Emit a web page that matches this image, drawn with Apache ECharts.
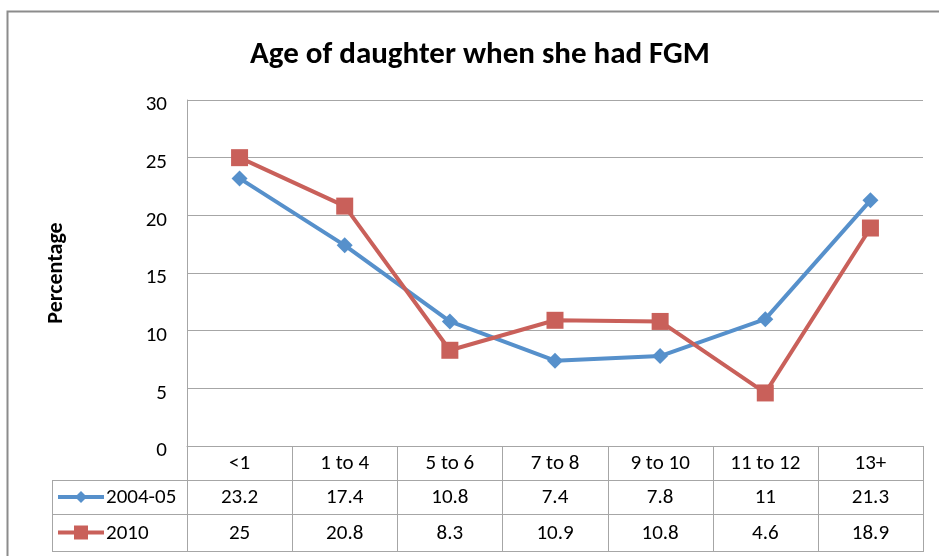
<!DOCTYPE html>
<html>
<head>
<meta charset="utf-8">
<script src="https://cdn.jsdelivr.net/npm/echarts@6/dist/echarts.min.js"></script>
<style>
html,body{margin:0;padding:0;background:#fff;}
#chart{width:939px;height:556px;}
</style>
</head>
<body>
<div id="chart"></div>
<script>
var categories = ['<1', '1 to 4', '5 to 6', '7 to 8', '9 to 10', '11 to 12', '13+'];
var seriesNames = ['2004-05', '2010'];
var values2004 = [23.2, 17.4, 10.8, 7.4, 7.8, 11, 21.3];
var values2010 = [25, 20.8, 8.3, 10.9, 10.8, 4.6, 18.9];
var yTicks = [0, 5, 10, 15, 20, 25, 30];

var FONT = 'Carlito, Lato, sans-serif';
var BLUE = '#5690cb';
var RED = '#c9605a';
var GRIDC = '#a6a6a6';
var FS = 21;

var chart = echarts.init(document.getElementById('chart'), null, {renderer: 'canvas'});

var option = {
  animation: false,
  backgroundColor: '#fff',
  textStyle: {fontFamily: FONT},
  title: {
    text: 'Age of daughter when she had FGM',
    left: 475,
    textAlign: 'center',
    top: 35,
    textStyle: {fontFamily: FONT, fontSize: 31, fontWeight: 'bold', color: '#000'}
  },
  grid: {left: 187, right: 16, top: 100, bottom: 110, containLabel: false},
  xAxis: {
    type: 'category',
    data: categories,
    boundaryGap: true,
    axisLine: {show: true, lineStyle: {color: GRIDC, width: 1}},
    axisTick: {show: false},
    splitLine: {show: false},
    axisLabel: {margin: 7, fontSize: FS, color: '#000', fontFamily: FONT, interval: 0}
  },
  yAxis: {
    type: 'value',
    min: yTicks[0],
    max: yTicks[yTicks.length - 1],
    interval: 5,
    name: 'Percentage',
    nameLocation: 'middle',
    nameRotate: 90,
    nameGap: 120,
    nameTextStyle: {fontFamily: FONT, fontSize: 22, fontWeight: 'bold', color: '#000'},
    axisLine: {show: true, lineStyle: {color: GRIDC, width: 1}},
    axisTick: {show: false},
    splitLine: {show: true, lineStyle: {color: GRIDC, width: 1}},
    axisLabel: {margin: 20, fontSize: FS, color: '#000', fontFamily: FONT, verticalAlign: 'top', lineHeight: 10}
  },
  series: [
    {
      name: seriesNames[0], type: 'line', data: values2004,
      symbol: 'diamond', symbolSize: 16,
      lineStyle: {color: BLUE, width: 4},
      itemStyle: {color: BLUE}
    },
    {
      name: seriesNames[1], type: 'line', data: values2010,
      symbol: 'rect', symbolSize: 17,
      lineStyle: {color: RED, width: 4},
      itemStyle: {color: RED}
    }
  ]
};
chart.setOption(option);

// Build data table below the plot from the axis scale
var x0 = chart.convertToPixel({xAxisIndex: 0}, categories[0]);
var x1 = chart.convertToPixel({xAxisIndex: 0}, categories[1]);
var band = x1 - x0;
var yAxisZero = chart.convertToPixel({yAxisIndex: 0}, 0);
var rowTop = [yAxisZero, yAxisZero + 34, yAxisZero + 68, yAxisZero + 105];
var tableLeft = 52;
var plotLeft = x0 - band / 2;
var plotRight = x0 + band * (categories.length - 0.5);

var g = [];
function line(xa, ya, xb, yb) {
  g.push({type: 'line', silent: true, shape: {x1: xa, y1: ya, x2: xb, y2: yb},
    style: {stroke: GRIDC, lineWidth: 1}});
}
// outer chart border
g.push({type: 'polyline', silent: true, shape: {points: [[7.5, 600], [7.5, 11.5], [960, 11.5]]},
  style: {stroke: '#8c8c8c', lineWidth: 2, fill: null}});
// vertical boundaries
for (var i = 0; i <= categories.length; i++) {
  var bx = Math.round(plotLeft + i * band) + 0.5;
  line(bx, rowTop[0], bx, rowTop[3]);
}
line(tableLeft + 0.5, rowTop[1], tableLeft + 0.5, rowTop[3]);
// horizontal lines
for (var r = 1; r <= 3; r++) {
  var hy = Math.round(rowTop[r]) + 0.5;
  line(tableLeft, hy, Math.round(plotRight) + 1, hy);
}
// values
var allVals = [values2004, values2010];
for (var s = 0; s < 2; s++) {
  var cy = (rowTop[s + 1] + rowTop[s + 2]) / 2;
  for (var c = 0; c < categories.length; c++) {
    g.push({type: 'text', silent: true,
      style: {x: x0 + c * band, y: cy + 1, text: String(allVals[s][c]), align: 'center', verticalAlign: 'middle',
        font: FS + 'px ' + FONT, fill: '#000'}});
  }
  // legend key
  var col = s === 0 ? BLUE : RED;
  g.push({type: 'line', silent: true, shape: {x1: 58, y1: cy, x2: 104, y2: cy},
    style: {stroke: col, lineWidth: 4}});
  if (s === 0) {
    g.push({type: 'polygon', silent: true, shape: {points: [[81, cy - 6], [87, cy], [81, cy + 6], [75, cy]]},
      style: {fill: col}});
  } else {
    g.push({type: 'rect', silent: true, shape: {x: 74, y: cy - 7, width: 14, height: 14},
      style: {fill: col}});
  }
  g.push({type: 'text', silent: true,
    style: {x: 106, y: cy + 1, text: seriesNames[s], align: 'left', verticalAlign: 'middle',
      font: FS + 'px ' + FONT, fill: '#000'}});
}
chart.setOption({graphic: g});
</script>
</body>
</html>
